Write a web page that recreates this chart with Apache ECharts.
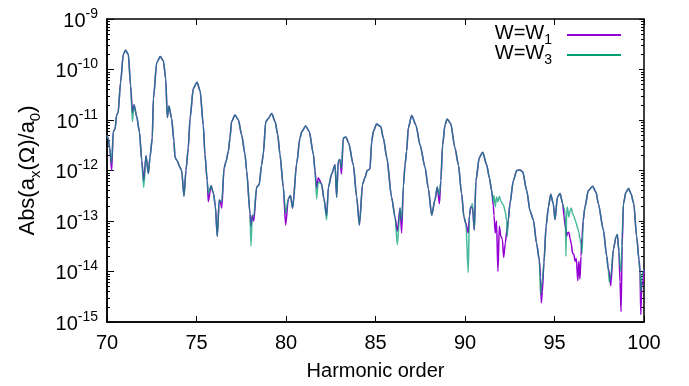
<!DOCTYPE html>
<html><head><meta charset="utf-8">
<script src="https://cdn.jsdelivr.net/npm/echarts@6/dist/echarts.min.js"></script>
<style>html,body{margin:0;padding:0;background:#fff}#c{width:689px;height:386px}</style>
</head><body><div id="c"></div><script>
// Harmonic order (x)
const harmonic = [
70.00,70.07,70.15,70.26,70.35,70.45,70.54,70.62,70.76,70.91,
71.04,71.19,71.32,71.42,71.51,71.66,71.81,71.94,72.05,72.18,
72.31,72.40,72.53,72.59,72.78,72.98,73.15,73.28,73.37,73.46,
73.61,73.74,73.80,73.93,74.04,74.17,74.30,74.41,74.54,74.64,
74.82,75.03,75.20,75.38,75.47,75.60,75.66,75.81,75.95,76.05,
76.16,76.27,76.33,76.41,76.54,76.65,76.78,76.87,76.96,77.15,
77.34,77.52,77.71,77.80,77.99,78.04,78.12,78.20,78.36,78.50,
78.64,78.73,78.87,79.01,79.20,79.39,79.54,79.66,79.85,79.98,
80.13,80.25,80.37,80.60,80.78,80.88,81.10,81.30,81.53,81.62,
81.71,81.80,81.99,82.12,82.27,82.37,82.55,82.74,82.83,82.92,
83.01,83.10,83.20,83.35,83.50,83.76,83.95,84.10,84.28,84.41,
84.54,84.69,84.79,84.88,85.06,85.29,85.44,85.63,85.90,86.09,
86.22,86.37,86.46,86.56,86.65,86.74,86.83,87.02,87.26,87.49,
87.77,87.95,88.14,88.32,88.45,88.57,88.65,88.75,88.88,89.00,
89.20,89.44,89.63,89.81,89.94,90.05,90.18,90.25,90.32,90.42,
90.52,90.61,90.80,90.99,91.21,91.36,91.49,91.58,91.62,91.69,
91.76,91.84,91.92,92.00,92.09,92.16,92.25,92.33,92.36,92.42,
92.51,92.70,92.89,93.07,93.22,93.45,93.63,93.82,94.00,94.15,
94.22,94.26,94.32,94.41,94.53,94.66,94.79,94.93,95.03,95.16,
95.31,95.46,95.53,95.60,95.64,95.68,95.72,95.80,95.87,95.94,
96.01,96.08,96.15,96.22,96.30,96.36,96.42,96.48,96.54,96.60,
96.70,96.89,97.13,97.32,97.45,97.73,97.92,98.00,98.06,98.14,
98.29,98.44,98.51,98.60,98.66,98.72,98.78,98.85,98.99,99.14,
99.27,99.43,99.59,99.72,99.78,99.82,99.88,99.94,100.00
];
// Abs(a_x(Omega)/a_0), W = W1
const absW1 = [
5.0e-12,4.2e-12,2.8e-12,1.0e-12,5.9e-12,6.6e-12,1.26e-11,1.4e-11,5.6e-11,2.0e-10,
2.4e-10,2.0e-10,4.8e-11,1.4e-11,2.0e-11,1.17e-11,5.9e-12,1.6e-12,6.3e-13,1.95e-12,
8.7e-13,1.8e-12,4.4e-12,2.6e-11,1.38e-10,1.8e-10,1.48e-10,6.5e-11,1.12e-11,1.9e-11,
1.07e-11,3.8e-12,1.8e-12,1.55e-12,1.23e-12,1.0e-12,3.1e-13,1.0e-12,2.8e-12,1.07e-11,
4.2e-11,5.6e-11,3.8e-11,7.9e-12,2.1e-12,6.3e-13,2.4e-13,5.0e-13,3.5e-13,2.0e-13,
5.0e-14,2.6e-13,2.5e-13,1.8e-13,1.12e-12,1.5e-12,2.4e-12,4.4e-12,9.3e-12,1.26e-11,
1.0e-11,5.1e-12,2.1e-12,1.0e-12,1.4e-13,7.9e-14,1.3e-13,1.0e-13,4.7e-13,5.2e-13,
1.3e-12,2.1e-12,9.3e-12,1.07e-11,1.35e-11,9.3e-12,5.1e-12,2.1e-12,4.7e-13,8.3e-14,
2.75e-13,3.2e-13,1.8e-13,1.4e-12,4.4e-12,5.9e-12,7.6e-12,5.9e-12,2.1e-12,1.0e-12,
4.5e-13,7.2e-13,5.4e-13,2.75e-13,1.26e-13,4.7e-13,8.5e-13,1.3e-12,2.95e-13,1.55e-12,
1.66e-12,8.5e-13,4.4e-12,4.6e-12,3.5e-12,1.3e-12,2.95e-13,8.3e-14,5.4e-13,7.2e-13,
1.0e-12,1.07e-12,3.8e-12,5.9e-12,8.3e-12,7.4e-12,4.4e-12,1.8e-12,2.95e-13,1.2e-13,
6.3e-14,1.8e-13,5.8e-14,5.0e-13,1.3e-12,2.4e-12,6.9e-12,1.23e-11,7.9e-12,3.2e-12,
1.15e-12,4.4e-13,1.3e-13,2.6e-13,4.7e-13,2.2e-13,6.3e-13,3.2e-12,7.9e-12,1.05e-11,
8.5e-12,2.8e-12,1.3e-12,3.5e-13,1.2e-13,8.9e-14,5.8e-14,1.26e-13,1.9e-13,1.8e-13,
6.6e-14,6.3e-13,1.8e-12,2.3e-12,1.3e-12,7.2e-13,4.0e-13,2.0e-13,1.3e-13,5.8e-14,
1.0e-13,1.0e-14,7.9e-14,5.0e-14,4.3e-14,1.9e-14,3.6e-14,6.3e-14,7.1e-14,1.05e-13,
2.2e-13,6.3e-13,1.0e-12,1.02e-12,9.5e-13,4.0e-13,1.6e-13,1.05e-13,3.6e-14,1.7e-14,
7.9e-15,2.4e-15,3.9e-15,1.5e-14,7.8e-14,1.9e-13,3.4e-13,2.2e-13,1.07e-13,2.95e-13,
3.5e-13,2.2e-13,1.26e-13,7.9e-14,7.1e-14,5.0e-14,5.8e-14,6.0e-14,4.5e-14,3.5e-14,
2.3e-14,2.2e-14,1.6e-14,1.8e-14,6.6e-15,1.6e-14,7.1e-15,2.0e-14,5.0e-14,1.0e-13,
1.9e-13,4.0e-13,4.9e-13,3.7e-13,2.2e-13,6.6e-14,2.0e-14,1.12e-14,1.0e-14,5.2e-15,
2.75e-14,4.9e-14,5.4e-14,2.5e-14,6.3e-15,1.6e-15,3.2e-14,2.2e-13,3.7e-13,4.4e-13,
3.5e-13,2.2e-13,4.9e-14,1.7e-14,1.0e-14,1.4e-15,6.3e-15,5.6e-15,1.12e-14
];
// Abs(a_x(Omega)/a_0), W = W3
const absW3 = [
5.0e-12,4.2e-12,2.8e-12,1.4e-12,5.9e-12,6.6e-12,1.26e-11,1.4e-11,5.6e-11,2.0e-10,
2.4e-10,2.0e-10,4.8e-11,9.3e-12,2.0e-11,1.17e-11,5.9e-12,1.6e-12,4.6e-13,1.95e-12,
8.7e-13,1.8e-12,4.4e-12,2.6e-11,1.38e-10,1.8e-10,1.48e-10,6.5e-11,1.12e-11,1.9e-11,
1.07e-11,3.8e-12,1.8e-12,1.55e-12,1.23e-12,1.0e-12,3.1e-13,1.0e-12,2.8e-12,1.07e-11,
4.2e-11,5.6e-11,3.8e-11,7.9e-12,2.1e-12,6.3e-13,3.5e-13,5.0e-13,3.5e-13,2.0e-13,
5.0e-14,2.6e-13,2.5e-13,2.4e-13,1.12e-12,1.5e-12,2.4e-12,4.4e-12,9.3e-12,1.26e-11,
1.0e-11,5.1e-12,2.1e-12,1.0e-12,1.4e-13,3.2e-14,1.3e-13,1.26e-13,4.7e-13,5.2e-13,
1.3e-12,2.1e-12,9.3e-12,1.07e-11,1.35e-11,9.3e-12,5.1e-12,2.1e-12,4.7e-13,1.4e-13,
2.75e-13,3.2e-13,1.8e-13,1.4e-12,4.4e-12,5.9e-12,7.6e-12,5.9e-12,2.1e-12,1.0e-12,
2.75e-13,6.0e-13,5.4e-13,2.75e-13,1.05e-13,4.7e-13,8.5e-13,1.3e-12,2.95e-13,1.55e-12,
1.66e-12,1.12e-12,4.4e-12,4.6e-12,3.5e-12,1.3e-12,2.95e-13,8.3e-14,5.4e-13,7.2e-13,
1.0e-12,1.07e-12,3.8e-12,5.9e-12,8.3e-12,7.4e-12,4.4e-12,1.8e-12,2.95e-13,1.2e-13,
3.4e-14,1.8e-13,1.0e-13,5.0e-13,1.3e-12,2.4e-12,6.9e-12,1.23e-11,7.9e-12,3.2e-12,
1.15e-12,4.4e-13,1.3e-13,2.6e-13,4.7e-13,3.2e-13,6.3e-13,3.2e-12,7.9e-12,1.05e-11,
8.5e-12,2.8e-12,1.3e-12,3.5e-13,1.2e-13,8.9e-14,9.5e-15,1.4e-13,1.9e-13,2.2e-13,
6.6e-14,6.3e-13,1.8e-12,2.3e-12,1.3e-12,7.2e-13,4.0e-13,2.4e-13,3.2e-13,1.9e-13,
3.0e-13,2.4e-13,3.1e-13,2.5e-13,2.2e-13,2.0e-13,1.5e-13,1.0e-13,4.9e-14,1.05e-13,
2.2e-13,6.3e-13,1.0e-12,1.02e-12,9.5e-13,4.0e-13,1.6e-13,1.05e-13,3.6e-14,1.7e-14,
3.5e-15,5.0e-15,6.3e-15,1.5e-14,7.8e-14,1.9e-13,3.4e-13,2.2e-13,1.07e-13,2.95e-13,
3.5e-13,2.2e-13,1.8e-13,1.4e-13,2.0e-14,1.6e-13,1.9e-13,1.2e-13,1.6e-13,1.8e-13,
1.4e-13,1.26e-13,1.05e-13,8.9e-14,7.1e-14,6.0e-14,4.5e-14,3.5e-14,2.3e-14,1.0e-13,
1.9e-13,4.0e-13,4.9e-13,3.7e-13,2.2e-13,6.6e-14,2.0e-14,1.12e-14,6.2e-15,7.9e-15,
2.75e-14,4.9e-14,5.4e-14,2.5e-14,1.26e-14,1.0e-14,5.0e-14,2.2e-13,3.7e-13,4.4e-13,
3.5e-13,2.2e-13,4.9e-14,1.7e-14,1.0e-14,4.0e-15,7.9e-15,1.0e-14,1.12e-14
];
const xTickValues = [70, 75, 80, 85, 90, 95, 100];
const yTickExponents = [-15, -14, -13, -12, -11, -10, -9];
const seriesNames = ['W=W1', 'W=W3'];
const seriesSubs = ['1', '3'];

const FONT = 'Liberation Sans, Arial, Helvetica, sans-serif';
const minorLog = [];
for (let i = 0; i < yTickExponents.length - 1; i++) {
  for (let k = 2; k <= 9; k++) minorLog.push(yTickExponents[i] + Math.log10(k));
}
const yMin = Math.pow(10, yTickExponents[0]);
const yMax = Math.pow(10, yTickExponents[yTickExponents.length - 1]);

const chart = echarts.init(document.getElementById('c'), null, {renderer: 'canvas'});
const blank = {show: false};
const helperY = (pos, values, len) => ({
  type: 'value', min: yTickExponents[0], max: yTickExponents[yTickExponents.length - 1],
  position: pos, axisLine: blank, splitLine: blank, axisLabel: {show: false},
  axisTick: {show: true, inside: true, length: len, customValues: values, lineStyle: {color: '#000', width: 1}}
});
chart.setOption({
  animation: false,
  backgroundColor: '#fff',
  grid: {left: 107, right: 45, top: 19, bottom: 59, show: true, borderColor: '#000', borderWidth: 1.5, backgroundColor: 'transparent'},
  legend: {
    orient: 'vertical', right: 68, top: 23, align: 'right', icon: 'rect', padding: 0,
    itemWidth: 54, itemHeight: 2, itemGap: -4,
    data: seriesNames,
    formatter: name => '{b|W=W}{s|' + seriesSubs[seriesNames.indexOf(name)] + '}{g|}',
    textStyle: {
      fontFamily: FONT, color: '#000',
      rich: {
        b: {fontSize: 20, fontFamily: FONT, color: '#000', lineHeight: 24, verticalAlign: 'top'},
        s: {fontSize: 14, fontFamily: FONT, color: '#000', lineHeight: 24, verticalAlign: 'bottom'},
        g: {width: 10}
      }
    }
  },
  xAxis: [{
    type: 'value', min: xTickValues[0], max: xTickValues[xTickValues.length - 1], interval: 5,
    position: 'bottom',
    axisLine: {show: true, lineStyle: {color: '#000', width: 1.5}},
    axisTick: {show: true, inside: true, length: 6, lineStyle: {color: '#000', width: 1}},
    axisLabel: {fontSize: 20, fontFamily: FONT, color: '#000', margin: 11},
    splitLine: blank,
    name: 'Harmonic order', nameLocation: 'middle', nameGap: 39,
    nameTextStyle: {fontSize: 20, fontFamily: FONT, color: '#000'}
  }, {
    type: 'value', min: xTickValues[0], max: xTickValues[xTickValues.length - 1], interval: 5,
    position: 'top', axisLine: blank, splitLine: blank, axisLabel: {show: false},
    axisTick: {show: true, inside: true, length: 6, lineStyle: {color: '#000', width: 1}}
  }],
  yAxis: [{
    type: 'log', logBase: 10, min: yMin, max: yMax, interval: 1,
    position: 'left',
    axisLine: {show: true, lineStyle: {color: '#000', width: 1.5}},
    axisTick: {show: true, inside: true, length: 7, lineStyle: {color: '#000', width: 1}},
    splitLine: blank, minorTick: blank,
    axisLabel: {
      margin: 9, fontFamily: FONT,
      formatter: v => '{b|10}{s|' + Math.round(Math.log10(v)) + '}',
      rich: {
        b: {fontSize: 20, fontFamily: FONT, color: '#000', lineHeight: 24, verticalAlign: 'bottom'},
        s: {fontSize: 14, fontFamily: FONT, color: '#000', lineHeight: 24, verticalAlign: 'top'}
      }
    },
    name: '{t|Abs(a}{d|x}{t|(Ω)/a}{d|0}{t|)}', nameLocation: 'middle', nameGap: 64, nameRotate: 90,
    nameTextStyle: {
      fontFamily: FONT, color: '#000',
      rich: {
        t: {fontSize: 22, fontFamily: FONT, color: '#000', lineHeight: 26, verticalAlign: 'top'},
        d: {fontSize: 15, fontFamily: FONT, color: '#000', lineHeight: 26, verticalAlign: 'bottom'}
      }
    }
  },
  helperY('left', minorLog, 3),
  helperY('right', yTickExponents, 5),
  helperY('right', minorLog, 3)
  ],
  series: [{
    name: seriesNames[0], type: 'line', xAxisIndex: 0, yAxisIndex: 0,
    showSymbol: false, symbol: 'none', z: 2, smooth: 0.25, smoothMonotone: 'x',
    lineStyle: {color: '#9400d3', width: 1.5}, itemStyle: {color: '#9400d3'},
    data: harmonic.map((h, i) => [h, absW1[i]])
  }, {
    name: seriesNames[1], type: 'line', xAxisIndex: 0, yAxisIndex: 0,
    showSymbol: false, symbol: 'none', z: 3, smooth: 0.25, smoothMonotone: 'x',
    lineStyle: {color: '#009e73', width: 1.5, opacity: 0.72}, itemStyle: {color: '#009e73'},
    data: harmonic.map((h, i) => [h, absW3[i]])
  }]
});
</script></body></html>
